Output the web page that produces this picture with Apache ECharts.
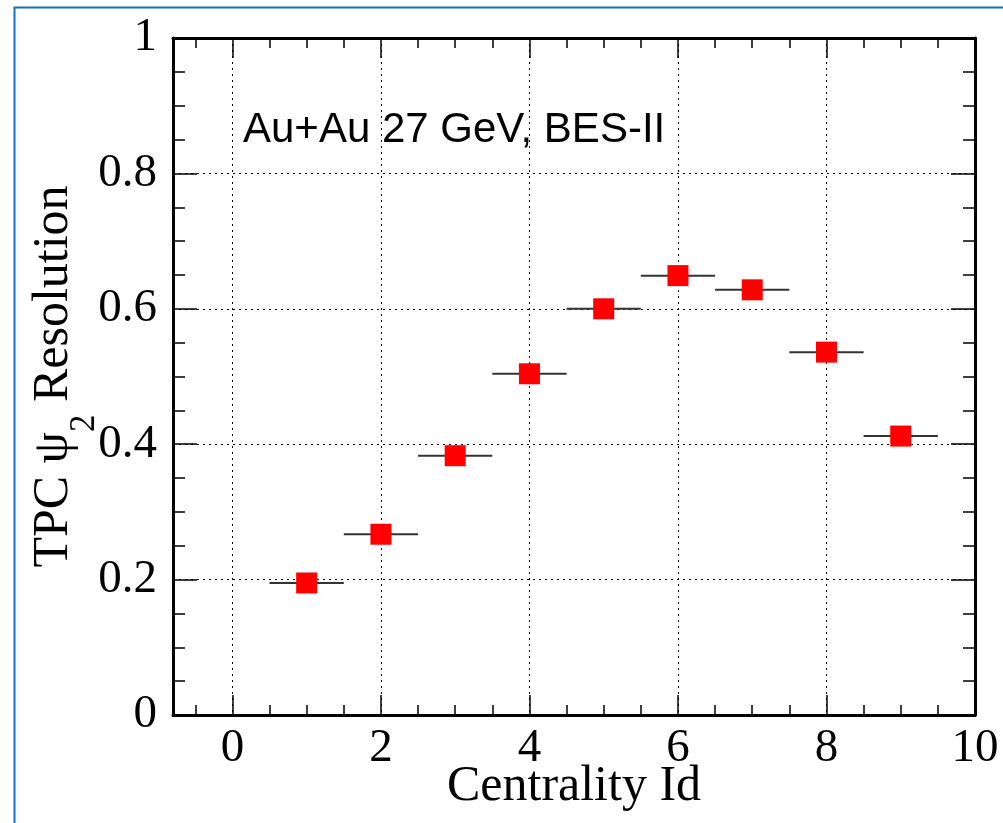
<!DOCTYPE html>
<html>
<head>
<meta charset="utf-8">
<script src="https://cdn.jsdelivr.net/npm/echarts@6/dist/echarts.min.js"></script>
<style>
html,body{margin:0;padding:0;background:#fff;}
#main{width:1003px;height:823px;}
</style>
</head>
<body>
<div id="main"></div>
<script>
// Data
var centralityId = [1, 2, 3, 4, 5, 6, 7, 8, 9];
var resolution = [0.195, 0.267, 0.383, 0.504, 0.600, 0.649, 0.628, 0.536, 0.412];
var xErr = [0.5, 0.5, 0.5, 0.5, 0.5, 0.5, 0.5, 0.5, 0.5];
var xTickLabels = ['0', '2', '4', '6', '8', '10'];
var annotationText = 'Au+Au 27 GeV, BES-II';
var xTitle = 'Centrality Id';

var serif = 'Liberation Serif';
var sans = 'Liberation Sans';

var points = centralityId.map(function (x, i) { return [x, resolution[i]]; });
var errData = centralityId.map(function (x, i) { return [x, resolution[i], xErr[i]]; });

var chart = echarts.init(document.getElementById('main'), null, {renderer: 'canvas'});

function xAxisCommon(pos, major, showLabel) {
  return {
    type: 'value',
    position: pos,
    min: -0.8,
    max: 10,
    splitNumber: major ? 5 : 20,
    axisLine: {show: major, onZero: false, lineStyle: {color: '#000', width: 3}},
    axisTick: {show: true, inside: true, length: major ? 20 : 10, lineStyle: {color: '#000', width: 1.5}},
    axisLabel: showLabel ? {
      show: true, margin: 10, color: '#000', fontFamily: serif, fontSize: 47,
      formatter: function (v) { var s = String(Math.round(v * 100) / 100); return xTickLabels.indexOf(s) >= 0 && Math.abs(v - Math.round(v)) < 1e-9 ? s : ''; }
    } : {show: false},
    splitLine: (major && showLabel) ? {show: true, lineStyle: {color: '#000', type: [2, 4], width: 1}} : {show: false}
  };
}

var xAxes = [
  Object.assign(xAxisCommon('bottom', true, true), {
    name: xTitle, nameLocation: 'middle', nameGap: 47, nameMoveOverlap: false,
    nameTextStyle: {color: '#000', fontFamily: serif, fontSize: 50}
  }),
  xAxisCommon('bottom', false, false),
  xAxisCommon('top', true, false),
  xAxisCommon('top', false, false)
];

function yAxisCommon(pos, main) {
  return {
    type: 'value',
    position: pos,
    min: 0,
    max: 1,
    interval: 0.2,
    axisLine: {show: true, onZero: false, lineStyle: {color: '#000', width: 3}},
    axisTick: {show: true, inside: true, length: 24, lineStyle: {color: '#000', width: 1.5}},
    minorTick: {show: true, splitNumber: 4, length: 12, lineStyle: {color: '#000', width: 1.5}},
    axisLabel: main ? {show: true, margin: 16, color: '#000', fontFamily: serif, fontSize: 47} : {show: false},
    splitLine: main ? {show: true, lineStyle: {color: '#000', type: [2, 4], width: 1}} : {show: false},
    minorSplitLine: {show: false}
  };
}

var yAxes = [
  Object.assign(yAxisCommon('left', true), {
    name: '{n|TPC ψ}{s|2}{n| Resolution}',
    nameLocation: 'middle',
    nameRotate: 90,
    nameGap: 94,
    nameMoveOverlap: false,
    nameTextStyle: {
      color: '#000', fontFamily: serif, fontSize: 50,
      rich: {
        n: {fontFamily: serif, fontSize: 50, lineHeight: 50, color: '#000', verticalAlign: 'top'},
        s: {fontFamily: serif, fontSize: 35, lineHeight: 35, color: '#000', verticalAlign: 'top', padding: [38, 0, 0, 0]}
      }
    }
  }),
  yAxisCommon('right', false)
];

var option = {
  backgroundColor: '#fff',
  animation: false,
  grid: {left: 173, top: 38, width: 802, height: 677, containLabel: false, outerBoundsMode: 'none'},
  xAxis: xAxes,
  yAxis: yAxes,
  graphic: [
    {
      type: 'rect', left: 12, top: 5, z: -10, silent: true,
      shape: {width: 1200, height: 1000},
      style: {fill: 'none', stroke: '#1670c2', lineWidth: 2}
    },
    {
      type: 'text', left: 243, top: 109, z: 10,
      style: {text: annotationText, font: '42px "Liberation Sans"', fill: '#000'}
    }
  ],
  series: [
    {
      type: 'custom',
      xAxisIndex: 0, yAxisIndex: 0,
      z: 3,
      data: errData,
      renderItem: function (params, api) {
        var x = api.value(0), y = api.value(1), e = api.value(2);
        var p1 = api.coord([x - e, y]);
        var p2 = api.coord([x + e, y]);
        return {
          type: 'line',
          shape: {x1: p1[0], y1: p1[1], x2: p2[0], y2: p2[1]},
          style: {stroke: '#333', lineWidth: 2}
        };
      }
    },
    {
      type: 'scatter',
      xAxisIndex: 0, yAxisIndex: 0,
      z: 5,
      symbol: 'rect',
      symbolSize: 21,
      itemStyle: {color: '#ff0000', opacity: 1},
      data: points
    }
  ]
};
chart.setOption(option);
</script>
</body>
</html>
